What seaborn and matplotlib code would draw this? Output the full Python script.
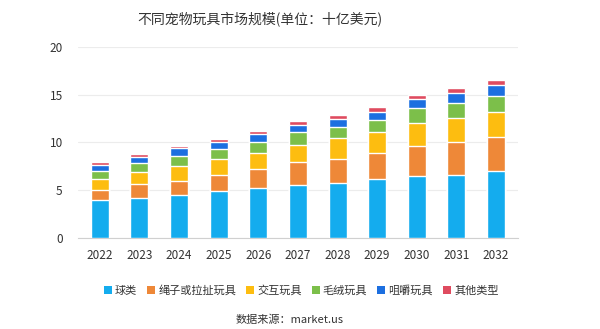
import matplotlib
matplotlib.use("Agg")
import matplotlib.pyplot as plt
import seaborn as sns
import numpy as np
import pandas as pd
from matplotlib.patches import Patch

years = ["2022", "2023", "2024", "2025", "2026", "2027", "2028", "2029", "2030", "2031", "2032"]
series_names = ["球类", "绳子或拉扯玩具", "交互玩具", "毛绒玩具", "咀嚼玩具", "其他类型"]
balls = [3.94, 4.18, 4.43, 4.85, 5.17, 5.51, 5.76, 6.11, 6.49, 6.60, 7.02]
rope = [1.05, 1.44, 1.53, 1.72, 2.06, 2.38, 2.52, 2.73, 3.12, 3.40, 3.57]
interactive = [1.15, 1.26, 1.54, 1.68, 1.68, 1.82, 2.21, 2.21, 2.45, 2.58, 2.59]
plush = [0.88, 0.91, 1.11, 1.06, 1.12, 1.33, 1.16, 1.29, 1.51, 1.58, 1.68]
chew = [0.60, 0.63, 0.77, 0.73, 0.81, 0.77, 0.81, 0.87, 0.95, 1.05, 1.16]
other = [0.31, 0.32, 0.24, 0.33, 0.35, 0.42, 0.42, 0.46, 0.45, 0.53, 0.56]
y_ticks = [0, 5, 10, 15, 20]

colors = ["#14acee", "#ee8838", "#fdbd10", "#7cbf4a", "#1c6fe0", "#df4b5f"]

sns.set_theme(style="white")
plt.rcParams['font.family'] = ['Noto Sans CJK SC', 'DejaVu Sans']

fig = plt.figure(figsize=(6.0, 3.29), dpi=100)
ax = fig.add_axes([0.13, 0.278, 0.733, 0.579])

data = [balls, rope, interactive, plush, chew, other]
cum = np.cumsum(np.array(data), axis=0)
for i in range(len(data) - 1, -1, -1):
    df = pd.DataFrame({"year": years, "value": cum[i]})
    sns.barplot(data=df, x="year", y="value", color=colors[i], width=0.455,
                saturation=1, ax=ax, zorder=3)

ax.set_ylim(0, 20)
ax.set_xlim(-0.55, len(years) - 0.45)
ax.set_yticks(y_ticks)
ax.set_xlabel("")
ax.set_ylabel("")
ax.yaxis.grid(True, color="#ececec", linewidth=0.8, zorder=0)
for s in ["top", "right", "left"]:
    ax.spines[s].set_visible(False)
ax.spines["bottom"].set_color("#d0d0d0")
ax.spines["bottom"].set_linewidth(0.8)
ax.tick_params(axis="both", length=0, labelsize=8.5, colors="#333333")
ax.tick_params(axis="x", pad=8)
ax.tick_params(axis="y", pad=11)

fig.text(0.433, 0.942, "不同宠物玩具市场规模(单位：十亿美元)", ha="center", va="center",
         fontsize=10, color="#333333")

handles = [Patch(facecolor=c, edgecolor="none") for c in colors]
fig.legend(handles, series_names, loc="center", bbox_to_anchor=(0.502, 0.118), ncol=6,
           frameon=False, fontsize=8, handlelength=0.7, handleheight=0.7,
           handletextpad=0.3, columnspacing=0.9, labelcolor="#333333")

fig.text(0.482, 0.027, "数据来源：market.us", ha="center", va="center",
         fontsize=8, color="#333333")

fig.savefig("out.png", dpi=100)
